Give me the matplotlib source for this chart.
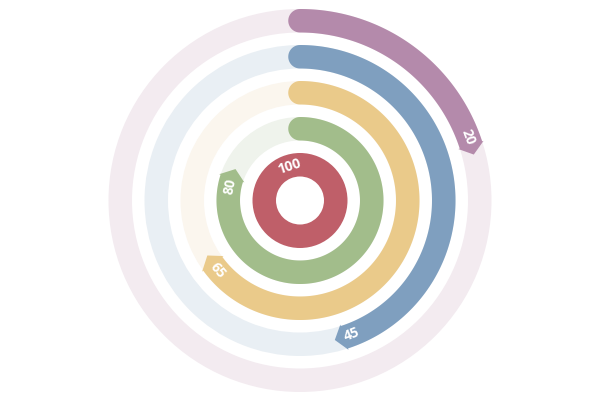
import numpy as np
import matplotlib.pyplot as plt
from matplotlib.patches import Polygon, Wedge

values = [100, 80, 65, 45, 20]
labels = ['100', '80', '65', '45', '20']
colors = ['#bf5f69', '#a2bd8b', '#eaca8a', '#7f9fbf', '#b48aab']
tracks = ['#ffffff', '#eff3ec', '#fbf6ee', '#e9eff4', '#f3ebf0']

cx, cy = 300, 200.5
r0 = 47.5      # outer radius of the inner ring
band = 23.5
step = 36

fig = plt.figure(figsize=(6, 4), dpi=100)
ax = fig.add_axes([0, 0, 1, 1])
ax.set_xlim(0, 600)
ax.set_ylim(400, 0)
ax.axis('off')


def pt(r, a):
    # a: degrees, clockwise from 12 o'clock
    t = np.radians(a)
    return cx + r * np.sin(t), cy - r * np.cos(t)


def text_rot(a):
    rot = (-a + 180) % 360 - 180
    if abs(rot) > 90:
        rot = rot - 180 if rot > 0 else rot + 180
    return rot


for i, (v, lab, c, tc) in enumerate(zip(values, labels, colors, tracks)):
    r_out = r0 + step * i
    r_in = r_out - band
    r_mid = (r_out + r_in) / 2
    h = band / 2

    if v >= 100:
        ax.add_patch(Wedge((cx, cy), r_out, 0, 360, width=band, color=c, lw=0))
        x, y = pt(r_mid, -18)
        ax.text(x, y, lab, color='white', fontsize=10, fontweight='bold',
                family='Open Sans', rotation=18, ha='center', va='center',
                rotation_mode='anchor')
        continue

    # light background track
    ax.add_patch(Wedge((cx, cy), r_out, 0, 360, width=band, color=tc, lw=0))

    end = v * 3.6
    tip = np.degrees(10 / r_mid)
    flare = 1.5
    a = np.linspace(0, end, 200)
    outer = [pt(r_out, t) for t in a]
    inner = [pt(r_in, t) for t in a[::-1]]
    pts = outer + [pt(r_out + flare, end), pt(r_mid, end + tip),
                   pt(r_in - flare, end)] + inner
    s = np.linspace(0, np.pi, 30)
    cap = [(cx - h * np.sin(k), cy - r_mid + h * np.cos(k)) for k in s]
    pts = pts + cap
    ax.add_patch(Polygon(pts, closed=True, color=c, lw=0))

    la = end - np.degrees(8 / r_mid)
    x, y = pt(r_mid, la)
    ax.text(x, y, lab, color='white', fontsize=10, fontweight='bold',
            family='Open Sans', rotation=text_rot(la),
            ha='center', va='center', rotation_mode='anchor')

fig.savefig('out.png', dpi=100)
